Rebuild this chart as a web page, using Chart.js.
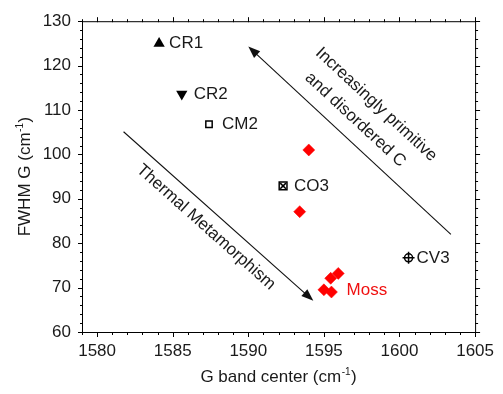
<!DOCTYPE html>
<html><head><meta charset="utf-8">
<script src="https://cdn.jsdelivr.net/npm/chart.js@4"></script>
<style>html,body{margin:0;padding:0;background:#fff}#wrap{width:503px;height:394px;position:relative}canvas{display:block}</style>
</head><body><div id="wrap"><canvas id="c" width="503" height="394" style="width:503px;height:394px"></canvas></div>
<script>
// ---- data ----
const xTicks = [1580, 1585, 1590, 1595, 1600, 1605];
const yTicks = [60, 70, 80, 90, 100, 110, 120, 130];
const sampleLabels = ['CR1', 'CR2', 'CM2', 'CO3', 'CV3'];
const sampleX = [1584.1, 1585.6, 1587.4, 1592.3, 1600.6];
const sampleY = [125.0, 113.6, 106.8, 92.9, 76.7];
const mossX = [1594.0, 1593.4, 1595.95, 1595.45, 1595.0, 1595.5];
const mossY = [101.0, 87.1, 73.2, 72.1, 69.5, 69.0];
const mossLabel = 'Moss';
const mossLabelX = 1596.5, mossLabelY = 69.4;
const arrowFromX = [1581.75, 1603.4], arrowFromY = [105.1, 82.0];
const arrowToX = [1594.3, 1590.0], arrowToY = [67.05, 124.3];
const noteText = ['Thermal Metamorphism', 'Increasingly primitive', 'and disordered C'];
const noteX = [1587.2, 1598.45, 1597.08];
const noteY = [83.6, 111.25, 107.8];
const noteArrow = [0, 1, 1];
const xTitle = 'G band center (cm', yTitle = 'FWHM G (cm', unitSup = '-1';

// ---- styles ----
const FONT = "'Liberation Sans', Arial, Helvetica, sans-serif";
const TXT = '#1a1a1a';
const sStyle = ['triangle', 'triangle', 'rect', 'rect', 'circle'];
const sRot = [0, 180, 0, 0, 0];
const sRad = [6.5, 6.5, 4.5, 5.5, 4];
const sBg = ['#000', '#000', '#fff', '#fff', '#fff'];
const sBw = [0, 0, 1.5, 1.5, 1.5];
const labelOffset = [10, 12, 13, 11, 8];
const overlayIdx = [3, 4];
const overlayStyle = ['crossRot', 'cross'];
const overlayRad = [4, 6];

const samplePts = sampleX.map((x, i) => ({x, y: sampleY[i]}));
const mossPts = mossX.map((x, i) => ({x, y: mossY[i]}));
const overlayPts = overlayIdx.map(i => ({x: sampleX[i], y: sampleY[i]}));

const decor = {
  id: 'decor',
  beforeDatasetsDraw(chart) {
    const {ctx, scales: {x, y}} = chart;
    ctx.save();
    ctx.strokeStyle = '#111'; ctx.fillStyle = '#111'; ctx.lineWidth = 1.1;
    const angles = [];
    for (let i = 0; i < arrowFromX.length; i++) {
      const x0 = x.getPixelForValue(arrowFromX[i]), y0 = y.getPixelForValue(arrowFromY[i]);
      const x1 = x.getPixelForValue(arrowToX[i]), y1 = y.getPixelForValue(arrowToY[i]);
      const ang = Math.atan2(y1 - y0, x1 - x0);
      let a2 = ang; if (a2 > Math.PI / 2) a2 -= Math.PI; if (a2 < -Math.PI / 2) a2 += Math.PI;
      angles.push(a2);
      const L = 12, W = 4.5;
      const bx = x1 - Math.cos(ang) * L, by = y1 - Math.sin(ang) * L;
      ctx.beginPath(); ctx.moveTo(x0, y0); ctx.lineTo(bx + Math.cos(ang) * 2, by + Math.sin(ang) * 2); ctx.stroke();
      ctx.beginPath();
      ctx.moveTo(x1, y1);
      ctx.lineTo(bx - Math.sin(ang) * W, by + Math.cos(ang) * W);
      ctx.lineTo(bx + Math.sin(ang) * W, by - Math.cos(ang) * W);
      ctx.closePath(); ctx.fill();
    }
    ctx.fillStyle = TXT; ctx.font = '17px ' + FONT;
    ctx.textAlign = 'center'; ctx.textBaseline = 'middle';
    for (let i = 0; i < noteText.length; i++) {
      ctx.save();
      ctx.translate(x.getPixelForValue(noteX[i]), y.getPixelForValue(noteY[i]));
      ctx.rotate(angles[noteArrow[i]]);
      ctx.fillText(noteText[i], 0, 0);
      ctx.restore();
    }
    ctx.restore();
  },
  afterDraw(chart) {
    const {ctx, chartArea: a, scales: {x, y}} = chart;
    ctx.save();
    ctx.strokeStyle = '#000'; ctx.lineWidth = 1;
    ctx.strokeRect(a.left + 0.5, a.top + 0.5, a.right - a.left, a.bottom - a.top);
    ctx.beginPath();
    for (let v = x.min; v <= x.max + 1e-9; v += 1) {
      const p = Math.round(x.getPixelForValue(v)) + 0.5;
      const len = xTicks.includes(v) ? 5 : 3;
      ctx.moveTo(p, a.bottom); ctx.lineTo(p, a.bottom + len);
      ctx.moveTo(p, a.top + 1); ctx.lineTo(p, a.top + 1 - len);
    }
    for (let v = y.min; v <= y.max + 1e-9; v += 2) {
      const p = Math.round(y.getPixelForValue(v)) + 0.5;
      const len = yTicks.includes(v) ? 5 : 3;
      ctx.moveTo(a.left + 1, p); ctx.lineTo(a.left + 1 - len, p);
      ctx.moveTo(a.right, p); ctx.lineTo(a.right + len, p);
    }
    ctx.stroke();
    // point labels
    ctx.font = '17px ' + FONT; ctx.textAlign = 'left'; ctx.textBaseline = 'middle';
    ctx.fillStyle = TXT;
    sampleLabels.forEach((t, i) => {
      ctx.fillText(t, x.getPixelForValue(sampleX[i]) + labelOffset[i], y.getPixelForValue(sampleY[i]));
    });
    ctx.fillStyle = '#f01010';
    ctx.fillText(mossLabel, x.getPixelForValue(mossLabelX), y.getPixelForValue(mossLabelY));
    // axis titles with superscript
    const drawTitle = (main, cx, cy) => {
      ctx.font = '17px ' + FONT;
      const w1 = ctx.measureText(main).width;
      ctx.font = '10px ' + FONT;
      const w2 = ctx.measureText(unitSup).width;
      ctx.font = '17px ' + FONT;
      const w3 = ctx.measureText(')').width;
      const tot = w1 + w2 + w3 + 1;
      let sx = cx - tot / 2;
      ctx.textAlign = 'left'; ctx.textBaseline = 'alphabetic'; ctx.fillStyle = TXT;
      ctx.fillText(main, sx, cy);
      ctx.font = '10px ' + FONT;
      ctx.fillText(unitSup, sx + w1 + 0.5, cy - 7);
      ctx.font = '17px ' + FONT;
      ctx.fillText(')', sx + w1 + w2 + 1, cy);
    };
    drawTitle(xTitle, (a.left + a.right) / 2, 382);
    ctx.save();
    ctx.translate(29.5, (a.top + a.bottom) / 2);
    ctx.rotate(-Math.PI / 2);
    drawTitle(yTitle, 0, 0);
    ctx.restore();
    ctx.restore();
  }
};

new Chart(document.getElementById('c'), {
  type: 'scatter',
  data: {
    datasets: [
      {
        order: 2,
        data: samplePts,
        pointStyle: sStyle, pointRotation: sRot, pointRadius: sRad,
        pointBackgroundColor: sBg, pointBorderColor: '#000', pointBorderWidth: sBw
      },
      {
        order: 1,
        data: overlayPts,
        pointStyle: overlayStyle, pointRadius: overlayRad,
        pointBackgroundColor: '#000', pointBorderColor: '#000', pointBorderWidth: 1.5
      },
      {
        order: 3,
        data: mossPts,
        pointStyle: 'rectRot', pointRadius: 6,
        pointBackgroundColor: '#ff0000', pointBorderColor: '#ff0000', pointBorderWidth: 0.5
      }
    ]
  },
  options: {
    responsive: false,
    maintainAspectRatio: false,
    devicePixelRatio: 1,
    animation: false,
    events: [],
    layout: {padding: {top: 14, right: 24, left: 0, bottom: 0}},
    plugins: {legend: {display: false}, tooltip: {enabled: false}},
    scales: {
      x: {
        type: 'linear', min: 1579, max: 1605,
        afterBuildTicks: s => { s.ticks = xTicks.map(v => ({value: v})); },
        afterFit: s => { s.height = 62; },
        grid: {display: false, drawTicks: false},
        border: {display: false},
        ticks: {color: TXT, font: {family: FONT, size: 17}, padding: 9, maxRotation: 0, autoSkip: false,
                callback: v => String(v)}
      },
      y: {
        type: 'linear', min: 60, max: 130,
        afterBuildTicks: s => { s.ticks = yTicks.map(v => ({value: v})); },
        afterFit: s => { s.width = 82; },
        grid: {display: false, drawTicks: false},
        border: {display: false},
        ticks: {color: TXT, font: {family: FONT, size: 17}, padding: 11, autoSkip: false,
                callback: v => String(v)}
      }
    }
  },
  plugins: [decor]
});
</script>
</body></html>
